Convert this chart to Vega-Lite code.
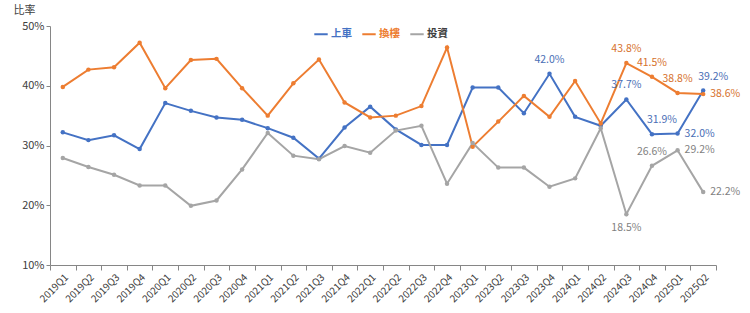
{
  "$schema": "https://vega.github.io/schema/vega-lite/v6.json",
  "autosize": {"type": "none"},
  "width": 666,
  "height": 239,
  "padding": {"left": 50, "top": 26, "right": 34, "bottom": 48},
  "background": "white",
  "config": {
    "font": "Noto Sans CJK TC",
    "view": {"stroke": null},
    "axis": {"labelColor": "#404040", "domainColor": "#868686", "tickColor": "#868686", "grid": false}
  },
  "data": {
    "values": [
      {"q": "2019Q1", "s": "上車", "v": 32.2}, {"q": "2019Q2", "s": "上車", "v": 30.9}, {"q": "2019Q3", "s": "上車", "v": 31.7},
      {"q": "2019Q4", "s": "上車", "v": 29.4}, {"q": "2020Q1", "s": "上車", "v": 37.1}, {"q": "2020Q2", "s": "上車", "v": 35.8},
      {"q": "2020Q3", "s": "上車", "v": 34.7}, {"q": "2020Q4", "s": "上車", "v": 34.3}, {"q": "2021Q1", "s": "上車", "v": 32.9},
      {"q": "2021Q2", "s": "上車", "v": 31.3}, {"q": "2021Q3", "s": "上車", "v": 27.8}, {"q": "2021Q4", "s": "上車", "v": 33.0},
      {"q": "2022Q1", "s": "上車", "v": 36.5}, {"q": "2022Q2", "s": "上車", "v": 32.7}, {"q": "2022Q3", "s": "上車", "v": 30.1},
      {"q": "2022Q4", "s": "上車", "v": 30.1}, {"q": "2023Q1", "s": "上車", "v": 39.7}, {"q": "2023Q2", "s": "上車", "v": 39.7},
      {"q": "2023Q3", "s": "上車", "v": 35.4}, {"q": "2023Q4", "s": "上車", "v": 42.0}, {"q": "2024Q1", "s": "上車", "v": 34.8},
      {"q": "2024Q2", "s": "上車", "v": 33.3}, {"q": "2024Q3", "s": "上車", "v": 37.7}, {"q": "2024Q4", "s": "上車", "v": 31.9},
      {"q": "2025Q1", "s": "上車", "v": 32.0}, {"q": "2025Q2", "s": "上車", "v": 39.2},
      {"q": "2019Q1", "s": "換樓", "v": 39.8}, {"q": "2019Q2", "s": "換樓", "v": 42.7}, {"q": "2019Q3", "s": "換樓", "v": 43.1},
      {"q": "2019Q4", "s": "換樓", "v": 47.2}, {"q": "2020Q1", "s": "換樓", "v": 39.6}, {"q": "2020Q2", "s": "換樓", "v": 44.3},
      {"q": "2020Q3", "s": "換樓", "v": 44.5}, {"q": "2020Q4", "s": "換樓", "v": 39.6}, {"q": "2021Q1", "s": "換樓", "v": 35.0},
      {"q": "2021Q2", "s": "換樓", "v": 40.4}, {"q": "2021Q3", "s": "換樓", "v": 44.4}, {"q": "2021Q4", "s": "換樓", "v": 37.2},
      {"q": "2022Q1", "s": "換樓", "v": 34.7}, {"q": "2022Q2", "s": "換樓", "v": 35.0}, {"q": "2022Q3", "s": "換樓", "v": 36.6},
      {"q": "2022Q4", "s": "換樓", "v": 46.4}, {"q": "2023Q1", "s": "換樓", "v": 29.8}, {"q": "2023Q2", "s": "換樓", "v": 34.0},
      {"q": "2023Q3", "s": "換樓", "v": 38.3}, {"q": "2023Q4", "s": "換樓", "v": 34.8}, {"q": "2024Q1", "s": "換樓", "v": 40.8},
      {"q": "2024Q2", "s": "換樓", "v": 33.7}, {"q": "2024Q3", "s": "換樓", "v": 43.8}, {"q": "2024Q4", "s": "換樓", "v": 41.5},
      {"q": "2025Q1", "s": "換樓", "v": 38.8}, {"q": "2025Q2", "s": "換樓", "v": 38.6},
      {"q": "2019Q1", "s": "投資", "v": 27.9}, {"q": "2019Q2", "s": "投資", "v": 26.4}, {"q": "2019Q3", "s": "投資", "v": 25.1},
      {"q": "2019Q4", "s": "投資", "v": 23.3}, {"q": "2020Q1", "s": "投資", "v": 23.3}, {"q": "2020Q2", "s": "投資", "v": 19.9},
      {"q": "2020Q3", "s": "投資", "v": 20.8}, {"q": "2020Q4", "s": "投資", "v": 26.0}, {"q": "2021Q1", "s": "投資", "v": 32.1},
      {"q": "2021Q2", "s": "投資", "v": 28.3}, {"q": "2021Q3", "s": "投資", "v": 27.7}, {"q": "2021Q4", "s": "投資", "v": 29.9},
      {"q": "2022Q1", "s": "投資", "v": 28.8}, {"q": "2022Q2", "s": "投資", "v": 32.5}, {"q": "2022Q3", "s": "投資", "v": 33.3},
      {"q": "2022Q4", "s": "投資", "v": 23.6}, {"q": "2023Q1", "s": "投資", "v": 30.4}, {"q": "2023Q2", "s": "投資", "v": 26.3},
      {"q": "2023Q3", "s": "投資", "v": 26.3}, {"q": "2023Q4", "s": "投資", "v": 23.1}, {"q": "2024Q1", "s": "投資", "v": 24.5},
      {"q": "2024Q2", "s": "投資", "v": 32.9}, {"q": "2024Q3", "s": "投資", "v": 18.5}, {"q": "2024Q4", "s": "投資", "v": 26.6},
      {"q": "2025Q1", "s": "投資", "v": 29.2}, {"q": "2025Q2", "s": "投資", "v": 22.2}
    ]
  },
  "encoding": {
    "x": {
      "field": "q", "type": "ordinal", "sort": null,
      "scale": {"type": "band", "paddingInner": 0, "paddingOuter": 0},
      "axis": {"title": null, "labelAngle": -45, "labelAlign": "right", "labelBaseline": "top", "labelFontSize": 10, "labelPadding": 2, "tickBand": "extent", "tickSize": 5, "labelOverlap": false}
    },
    "y": {
      "field": "v", "type": "quantitative",
      "scale": {"domain": [10, 50], "nice": false, "zero": false},
      "axis": {"values": [10, 20, 30, 40, 50], "labelExpr": "datum.value + '%'", "labelFontSize": 11, "tickSize": 4, "title": "比率", "titleAngle": 0, "titleAlign": "left", "titleBaseline": "middle", "titleX": -37, "titleY": -16, "titleFontSize": 11, "titleFontWeight": "normal", "titleColor": "#404040"}
    },
    "color": {
      "field": "s", "type": "nominal",
      "scale": {"domain": ["上車", "換樓", "投資"], "range": ["#4472C4", "#ED7D31", "#A5A5A5"]},
      "legend": {"title": null, "orient": "none", "legendX": 263, "legendY": 0, "direction": "horizontal", "symbolType": "stroke", "symbolStrokeWidth": 2, "symbolSize": 180, "labelFontSize": 10.5, "labelFontWeight": "bold", "labelColor": {"expr": "datum.label == '上車' ? '#4472C4' : datum.label == '換樓' ? '#ED7D31' : '#404040'"}, "columnPadding": 6, "labelOffset": 2}
    }
  },
  "layer": [
    {
      "mark": {"type": "line", "strokeWidth": 2, "point": {"filled": true, "size": 20}}
    },
    {
      "transform": [
        {"filter": "(datum.s == '上車' && (datum.q == '2023Q4' || datum.q == '2024Q3')) || (datum.s == '換樓' && (datum.q == '2024Q3' || datum.q == '2024Q4' || datum.q == '2025Q1')) || (datum.s == '投資' && datum.q == '2024Q4')"},
        {"calculate": "format(datum.v, '.1f') + '%'", "as": "lab"}
      ],
      "mark": {"type": "text", "dy": -14, "fontSize": 10.5},
      "encoding": {"text": {"field": "lab"}, "fill": {"field": "s", "type": "nominal", "scale": {"domain": ["上車", "換樓", "投資"], "range": ["#4A6EB5", "#D6712C", "#7F7F7F"]}, "legend": null}}
    },
    {
      "transform": [
        {"filter": "(datum.s == '上車' && (datum.q == '2024Q4' || datum.q == '2025Q2'))"},
        {"calculate": "format(datum.v, '.1f') + '%'", "as": "lab"}
      ],
      "mark": {"type": "text", "dy": -14, "dx": 10, "fontSize": 10.5},
      "encoding": {"text": {"field": "lab"}, "fill": {"field": "s", "type": "nominal", "legend": null}}
    },
    {
      "transform": [
        {"filter": "(datum.s == '上車' && datum.q == '2025Q1') || (datum.s == '換樓' && datum.q == '2025Q2') || (datum.s == '投資' && (datum.q == '2025Q1' || datum.q == '2025Q2'))"},
        {"calculate": "format(datum.v, '.1f') + '%'", "as": "lab"}
      ],
      "mark": {"type": "text", "align": "left", "dx": 7, "fontSize": 10.5},
      "encoding": {"text": {"field": "lab"}, "fill": {"field": "s", "type": "nominal", "legend": null}}
    },
    {
      "transform": [
        {"filter": "datum.s == '投資' && datum.q == '2024Q3'"},
        {"calculate": "format(datum.v, '.1f') + '%'", "as": "lab"}
      ],
      "mark": {"type": "text", "dy": 14, "fontSize": 10.5},
      "encoding": {"text": {"field": "lab"}, "fill": {"field": "s", "type": "nominal", "legend": null}}
    }
  ]
}
